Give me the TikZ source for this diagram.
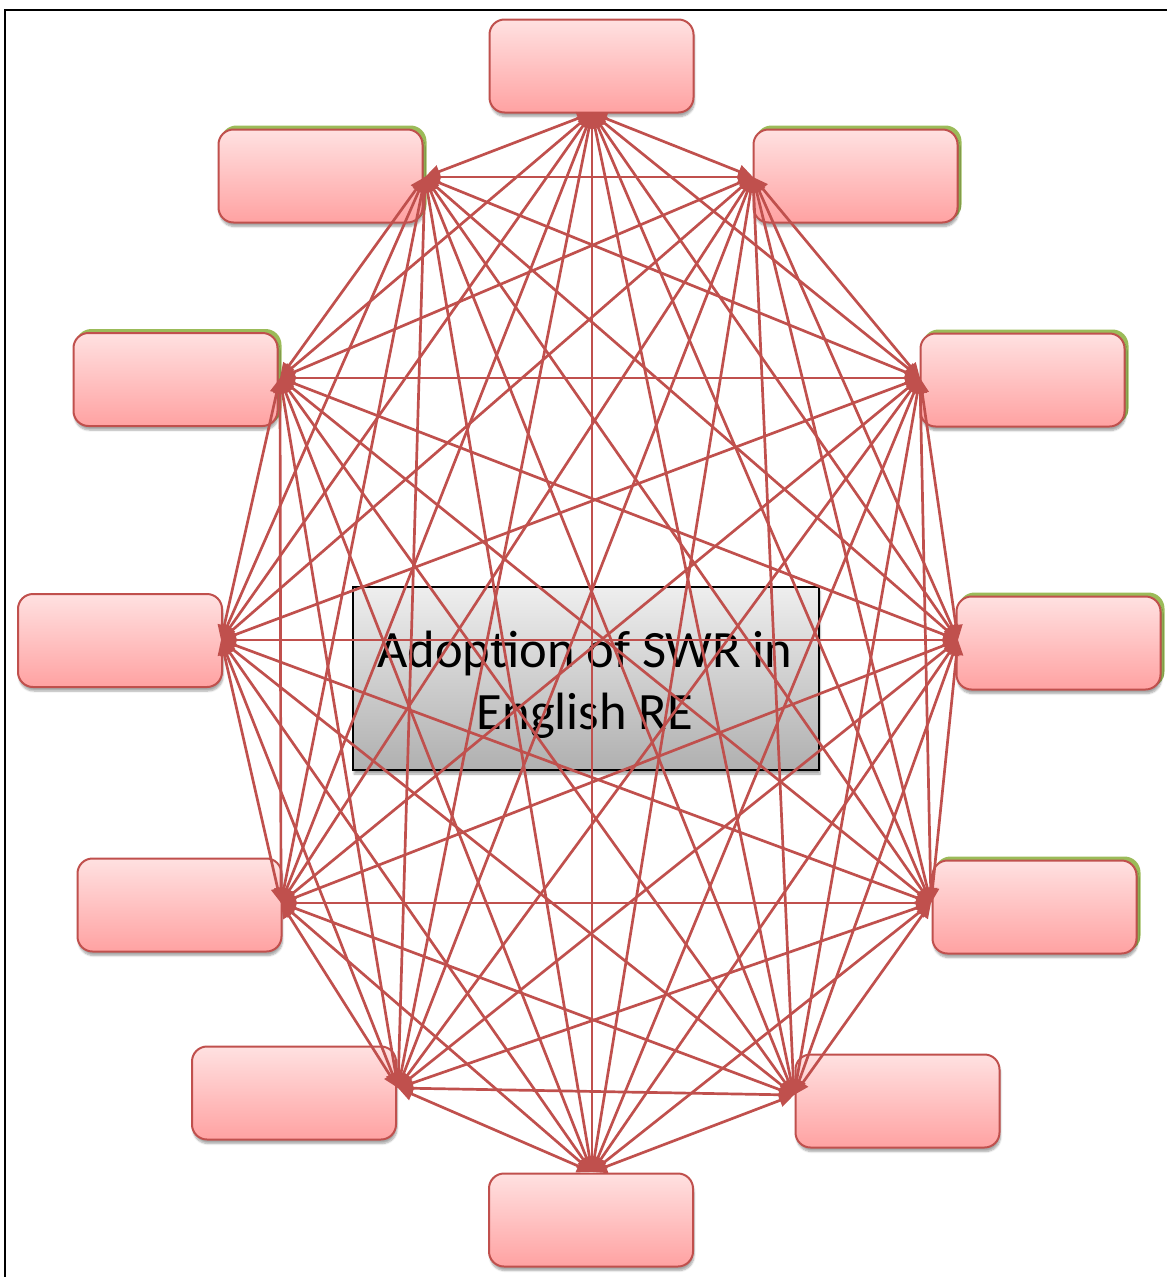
\documentclass[tikz,border=0pt]{standalone}
\usepackage{fontspec}
\setmainfont{Carlito}
\usetikzlibrary{arrows.meta,shadows.blur}
\definecolor{accred}{HTML}{C0504D}
\definecolor{pinktop}{HTML}{FFE1E1}
\definecolor{pinkbot}{HTML}{FFA2A2}
\definecolor{accgreen}{HTML}{9BBB59}
\definecolor{graytop}{HTML}{EEEEEE}
\definecolor{graybot}{HTML}{B0B0B0}
\begin{document}
\begin{tikzpicture}[x=1pt,y=-1pt,
 pbox/.style={rectangle, rounded corners=15pt, minimum width=204pt, minimum height=93pt,
   draw=accred, line width=2pt, top color=pinktop, bottom color=pinkbot, inner sep=0pt,
   blur shadow={shadow xshift=1pt, shadow yshift=-4pt, shadow blur steps=6, shadow opacity=35}},
 gbox/.style={rectangle, rounded corners=15pt, minimum width=204pt, minimum height=93pt,
   draw=accgreen, fill=accgreen, line width=2pt, inner sep=0pt},
 centrebox/.style={rectangle, draw=black, line width=2.2pt, top color=graytop, bottom color=graybot,
   minimum width=466pt, minimum height=183pt, inner sep=0pt,
   blur shadow={shadow xshift=1pt, shadow yshift=-4pt, shadow blur steps=6, shadow opacity=35}},
 centretext/.style={align=center, inner sep=0pt, font=\fontsize{52.5}{62}\selectfont},
 edge/.style={draw=accred, line width=2.7pt,
   {Triangle[length=15pt,width=13pt]}-{Triangle[length=15pt,width=13pt]}},
 frameline/.style={draw=black, line width=2pt}
]
\useasboundingbox (0,0) rectangle (1167,1277);

% frame
\coordinate (fbl) at (5,1280);
\coordinate (ftl) at (5,10);
\coordinate (ftr) at (1170,10);
\draw[frameline] (fbl) -- (ftl) -- (ftr);

% green offset boxes
\node[gbox] (g2)  at (858.5,173) {};
\node[gbox] (g3)  at (1025.5,377) {};
\node[gbox] (g4)  at (1061.5,640) {};
\node[gbox] (g5)  at (1037.5,904) {};
\node[gbox] (g11) at (178.5,376.5) {};
\node[gbox] (g12) at (323.5,173) {};

% pink boxes
\node[pbox] (b1)  at (591.5,66) {};
\node[pbox] (b2)  at (855.5,176) {};
\node[pbox] (b3)  at (1022.5,380) {};
\node[pbox] (b4)  at (1058.5,643) {};
\node[pbox] (b5)  at (1034.5,907) {};
\node[pbox] (b6)  at (897.5,1101) {};
\node[pbox] (b7)  at (591,1220) {};
\node[pbox] (b8)  at (294,1093) {};
\node[pbox] (b9)  at (179.5,905) {};
\node[pbox] (b10) at (120,640.5) {};
\node[pbox] (b11) at (175.5,379.5) {};
\node[pbox] (b12) at (320.5,176) {};

% centre box
\node[centrebox] (c) at (586,678.5) {};
\node[centretext] (ct) at (585,685) {Adoption of SWR in\\English RE};

% anchor points of the connectors
\coordinate (a1)  at (592,113);
\coordinate (a2)  at (753,177);
\coordinate (a3)  at (920,378);
\coordinate (a4)  at (958,640);
\coordinate (a5)  at (931,903);
\coordinate (a6)  at (794,1095);
\coordinate (a7)  at (592,1172);
\coordinate (a8)  at (398,1088);
\coordinate (a9)  at (281,903);
\coordinate (a10) at (221,640);
\coordinate (a11) at (280,378);
\coordinate (a12) at (425,177);

% complete graph
\foreach \i in {1,...,11} {
  \pgfmathtruncatemacro{\jstart}{\i+1}
  \foreach \j in {\jstart,...,12} {
    \draw[edge] (a\i) -- (a\j);
  }
}
\end{tikzpicture}
\end{document}
